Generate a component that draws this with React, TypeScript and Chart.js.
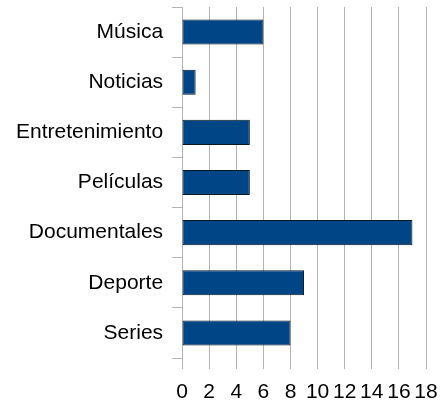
import React, { useEffect, useRef } from "react";
import { Chart, registerables } from "chart.js";

Chart.register(...registerables);

const categories = ["Música", "Noticias", "Entretenimiento", "Películas", "Documentales", "Deporte", "Series"];
const values = [6, 1, 5, 5, 17, 9, 8];
const xMin = 0;
const xMax = 18;
const xStep = 2;

export default function App() {
  const ref = useRef<HTMLCanvasElement | null>(null);
  useEffect(() => {
    if (!ref.current) return;
    const chart = new Chart(ref.current, {
      type: "bar",
      data: {
        labels: categories,
        datasets: [
          {
            data: values,
            backgroundColor: "#004586",
            borderColor: "#0a1622",
            borderWidth: 1,
            borderSkipped: false,
            categoryPercentage: 0.5,
            barPercentage: 1,
          },
        ],
      },
      options: {
        indexAxis: "y",
        animation: false,
        responsive: false,
        maintainAspectRatio: false,
        layout: { padding: { left: 7, right: 0, top: 7, bottom: 0 } },
        plugins: { legend: { display: false }, tooltip: { enabled: false } },
        scales: {
          x: {
            min: xMin,
            max: xMax,
            afterFit: (s: any) => {
              s.height = 42;
              s.paddingRight = 14;
              s.paddingLeft = 0;
            },
            ticks: {
              stepSize: xStep,
              autoSkip: false,
              maxRotation: 0,
              minRotation: 0,
              color: "#000",
              font: { family: "Liberation Sans", size: 21 },
              padding: 11,
            },
            grid: { color: "#b3b3b3", drawTicks: true, tickLength: 11, lineWidth: 1 },
            border: { display: false },
          },
          y: {
            offset: true,
            afterFit: (s: any) => {
              s.paddingTop = 0;
              s.paddingBottom = 0;
            },
            ticks: { autoSkip: false, color: "#000", font: { family: "Liberation Sans", size: 21 }, padding: 9 },
            grid: { offset: true, drawOnChartArea: false, drawTicks: true, tickLength: 10, color: "#b3b3b3" },
            border: { display: false },
          },
        },
      } as any,
    });
    return () => chart.destroy();
  }, []);
  return (
    <div style={{ position: "fixed", left: 0, top: 0, width: 440, height: 400, background: "#fff" }}>
      <canvas ref={ref} width={440} height={400} />
    </div>
  );
}
